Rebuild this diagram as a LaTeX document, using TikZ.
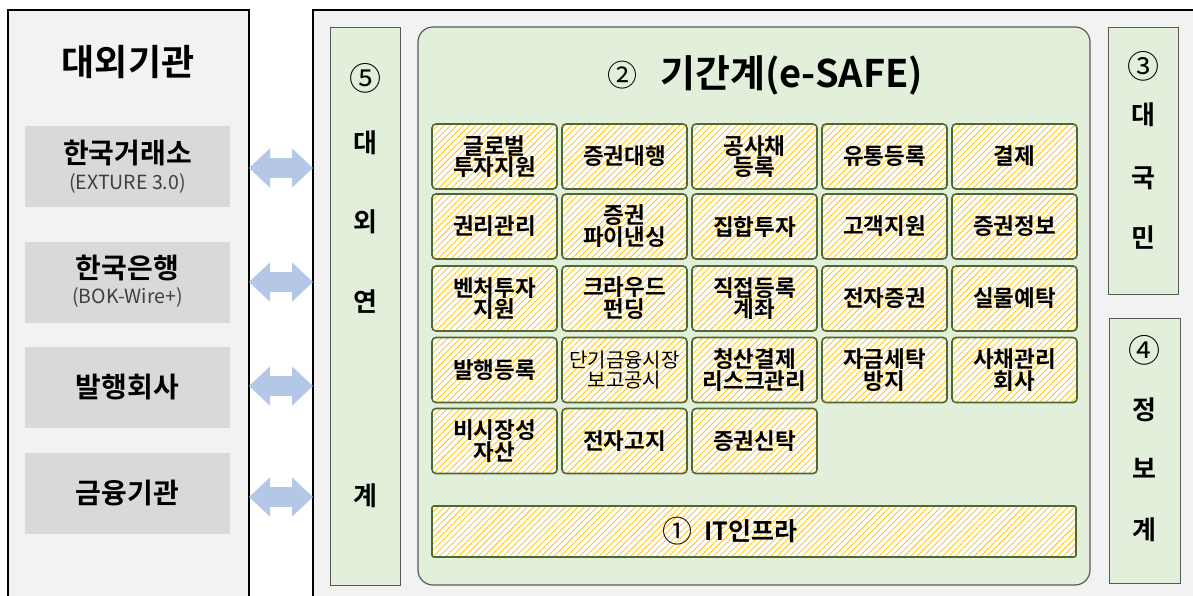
\documentclass[tikz,border=0pt]{standalone}
\usepackage{fontspec}
\setmainfont{Noto Sans CJK KR}[BoldFont={Noto Sans CJK KR Bold}]
\usetikzlibrary{patterns.meta,arrows.meta}
\definecolor{outerbg}{HTML}{F2F2F2}
\definecolor{graybox}{HTML}{D9D9D9}
\definecolor{greenbg}{HTML}{E2EFDA}
\definecolor{greenline}{HTML}{595959}
\definecolor{cellline}{RGB}{80,105,50}
\definecolor{stripe}{HTML}{FFC000}
\definecolor{arrowc}{HTML}{B4C7E7}
\definecolor{subtext}{HTML}{404040}
\tikzset{
  outerbox/.style={draw=black, line width=2pt, fill=outerbg, inner sep=0pt, outer sep=0pt},
  orgbox/.style={fill=graybox, inner sep=0pt, outer sep=0pt, minimum width=205pt, minimum height=81pt},
  sidecol/.style={draw=greenline, line width=1pt, fill=greenbg, inner sep=0pt, outer sep=0pt},
  midbox/.style={draw=greenline, line width=1.2pt, fill=greenbg, rounded corners=15pt, inner sep=0pt, outer sep=0pt},
  cell/.style={draw=cellline, line width=1.6pt, rounded corners=4pt, preaction={fill=white},
    pattern={Lines[angle=45,distance=4.5pt,line width=0.75pt]}, pattern color=stripe,
    minimum width=125pt, minimum height=65pt, inner sep=0pt, outer sep=0pt,
    align=center, font=\fontsize{22.5}{18.5}\selectfont\bfseries},
  orgname/.style={font=\fontsize{28}{30}\selectfont\bfseries, inner sep=0pt},
  orgsub/.style={font=\fontsize{19.5}{21}\selectfont, text=subtext, inner sep=0pt},
  coltext/.style={font=\fontsize{26}{28}\selectfont\bfseries, inner sep=0pt},
  circnum/.style={font=\fontsize{32}{34}\selectfont, inner sep=0pt},
  link/.style={line width=20pt, draw=arrowc, {Triangle[length=21pt,width=38pt]}-{Triangle[length=21pt,width=38pt]}}
}
\begin{document}
\begin{tikzpicture}[x=1pt,y=-1pt]
\useasboundingbox (0,0) rectangle (1193,595);
\clip (0,0) rectangle (1193,595);
\fill[white] (0,0) rectangle (1193,595);

% left: external institutions
\node[outerbox, minimum width=241pt, minimum height=600pt] (L) at (128.5,310) {};
\node[font=\fontsize{36}{38}\selectfont\bfseries, inner sep=0pt] (Ltitle) at (128,62) {대외기관};
\node[orgbox] (o1) at (127.5,166.5) {};
\node[orgname] (o1t) at (127.5,153) {한국거래소};
\node[orgsub] (o1s) at (127.5,183) {(EXTURE 3.0)};
\node[orgbox] (o2) at (127.5,282) {};
\node[orgname] (o2t) at (127.5,268) {한국은행};
\node[orgsub] (o2s) at (127.5,297) {(BOK-Wire+)};
\node[orgbox] (o3) at (127.5,387.5) {};
\node[orgname] (o3t) at (127.5,387) {발행회사};
\node[orgbox] (o4) at (127.5,493.5) {};
\node[orgname] (o4t) at (127.5,493) {금융기관};

% right: system
\node[outerbox, minimum width=900pt, minimum height=605pt] (R) at (763,312.5) {};

% connectors
\coordinate (a1) at (0,168);
\coordinate (a2) at (0,282);
\coordinate (a3) at (0,386);
\coordinate (a4) at (0,497);
\draw[link] (L.east |- a1) -- (R.west |- a1);
\draw[link] (L.east |- a2) -- (R.west |- a2);
\draw[link] (L.east |- a3) -- (R.west |- a3);
\draw[link] (L.east |- a4) -- (R.west |- a4);

% column 5
\node[sidecol, minimum width=70pt, minimum height=558pt] (C5) at (365,306) {};
\node[circnum] (c5n) at (365,78) {⑤};
\node[coltext] (c5a) at (365,143) {대};
\node[coltext] (c5b) at (365,222) {외};
\node[coltext] (c5c) at (365,302) {연};
\node[coltext] (c5d) at (365,496) {계};

% main box
\node[midbox, minimum width=672pt, minimum height=558pt] (M) at (754,306) {};
\node[font=\fontsize{30}{32}\selectfont, inner sep=0pt] (m2) at (622,75) {②};
\node[font=\fontsize{38}{40}\selectfont\bfseries, inner sep=0pt, anchor=west] (mt) at (660,75) {기간계(e-SAFE)};

% grid of cells
\node[cell] (g11) at (494.5,156.5) {글로벌\\투자지원};
\node[cell] (g12) at (624.5,156.5) {증권대행};
\node[cell] (g13) at (754.5,156.5) {공사채\\등록};
\node[cell] (g14) at (884.5,156.5) {유통등록};
\node[cell] (g15) at (1014.5,156.5) {결제};
\node[cell] (g21) at (494.5,226.5) {권리관리};
\node[cell] (g22) at (624.5,226.5) {증권\\파이낸싱};
\node[cell] (g23) at (754.5,226.5) {집합투자};
\node[cell] (g24) at (884.5,226.5) {고객지원};
\node[cell] (g25) at (1014.5,226.5) {증권정보};
\node[cell] (g31) at (494.5,298.5) {벤처투자\\지원};
\node[cell] (g32) at (624.5,298.5) {크라우드\\펀딩};
\node[cell] (g33) at (754.5,298.5) {직접등록\\계좌};
\node[cell] (g34) at (884.5,298.5) {전자증권};
\node[cell] (g35) at (1014.5,298.5) {실물예탁};
\node[cell] (g41) at (494.5,370) {발행등록};
\node[cell, font=\fontsize{20}{18}\selectfont] (g42) at (624.5,370) {단기금융시장\\보고공시};
\node[cell] (g43) at (754.5,370) {청산결제\\리스크관리};
\node[cell] (g44) at (884.5,370) {자금세탁\\방지};
\node[cell] (g45) at (1014.5,370) {사채관리\\회사};
\node[cell] (g51) at (494.5,441) {비시장성\\자산};
\node[cell] (g52) at (624.5,441) {전자고지};
\node[cell] (g53) at (754.5,441) {증권신탁};

% IT infra bar
\node[cell, minimum width=644pt, minimum height=51pt, rounded corners=2pt] (it) at (754,531.5) {};
\node[font=\fontsize{30}{32}\selectfont, inner sep=0pt] (it1) at (677,531.5) {①};
\node[font=\fontsize{25}{27}\selectfont\bfseries, inner sep=0pt, anchor=west] (it2) at (704,531.5) {IT인프라};

% column 3
\node[sidecol, minimum width=70pt, minimum height=267pt] (C3) at (1143,160.5) {};
\node[circnum] (c3n) at (1143,66) {③};
\node[coltext] (c3a) at (1143,115) {대};
\node[coltext] (c3b) at (1143,178) {국};
\node[coltext] (c3c) at (1143,238) {민};

% column 4
\node[sidecol, minimum width=71pt, minimum height=265pt] (C4) at (1144.5,450.5) {};
\node[circnum] (c4n) at (1144.5,350) {④};
\node[coltext] (c4a) at (1144.5,410) {정};
\node[coltext] (c4b) at (1144.5,468) {보};
\node[coltext] (c4c) at (1144.5,530) {계};
\end{tikzpicture}
\end{document}
